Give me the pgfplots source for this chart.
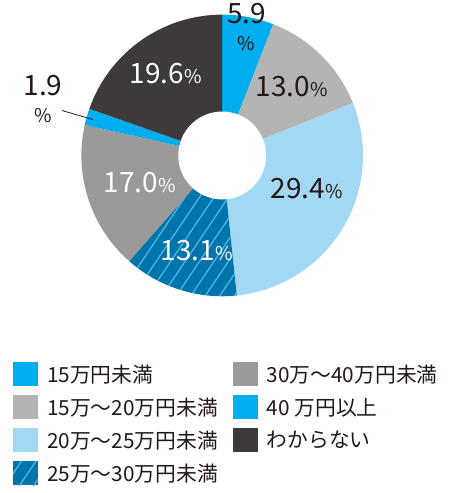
\documentclass[border=0pt]{standalone}
\usepackage{pgfplots}
\pgfplotsset{compat=1.18}
\usepackage{fontspec}
\setmainfont{Noto Sans CJK JP}
\usetikzlibrary{patterns.meta}

\definecolor{cBright}{HTML}{00AEEF}
\definecolor{cLGray}{HTML}{B4B4B5}
\definecolor{cLBlue}{HTML}{A3D8F4}
\definecolor{cDBlue}{HTML}{0075AC}
\definecolor{cHatch}{HTML}{52B2E6}
\definecolor{cMGray}{HTML}{9A9A9B}
\definecolor{cDark}{HTML}{3E3A3A}
\definecolor{cText}{HTML}{231815}

% donut centre and radii, in pixels of the reference
\newcommand{\cx}{222.5}
\newcommand{\cy}{338}
% one slice: from #1 % to #2 % (clockwise from the top), style #3
\newcommand{\slice}[3]{%
  \addplot[#3, draw=none, domain=#1:#2, samples=40, variable=\p]
    ({\cx+141*cos(90-\p*360/99.9)}, {\cy+141*sin(90-\p*360/99.9)})
    -- (axis cs:\cx,\cy) -- cycle;
}
\newcommand{\pct}[1]{{\fontsize{28}{28}\selectfont #1}{\fontsize{19}{19}\selectfont\%}}

\begin{document}
\begin{tikzpicture}
\begin{axis}[
  width=450pt, height=493pt, scale only axis,
  xmin=0, xmax=450, ymin=0, ymax=493,
  axis line style={draw=none}, ticks=none, clip=false,
  legend columns=2,
  legend cell align=left,
  legend image code/.code={\fill[#1] (0pt,-12pt) rectangle (25pt,12pt);},
  legend style={
    at={(axis cs:13,131)}, anchor=north west,
    draw=none, fill=none, inner sep=0pt,
    nodes={inner sep=0pt, text=cText},
    row sep=9pt,
    font=\fontsize{20.8}{20.8}\selectfont,
    /tikz/every odd column/.append style={column sep=9pt},
    /tikz/column 2/.append style={column sep=15pt},
  },
]
\slice{0}{5.9}{fill=cBright}
\addlegendentry{15万円未満}
\slice{61.4}{78.4}{fill=cMGray}
\addlegendentry{30万〜40万円未満}
\slice{5.9}{18.9}{fill=cLGray}
\addlegendentry{15万〜20万円未満}
\slice{78.4}{80.3}{fill=cBright}
\addlegendentry{40 万円以上}
\slice{18.9}{48.3}{fill=cLBlue}
\addlegendentry{20万〜25万円未満}
\slice{80.3}{99.9}{fill=cDark}
\addlegendentry{わからない}
\slice{48.3}{61.4}{fill=cDBlue, postaction={pattern={Lines[angle=56,distance=12pt,line width=1.3pt]}, pattern color=cHatch}}
\addlegendentry{25万〜30万円未満}

% hole
\addplot[fill=white, draw=none, domain=0:360, samples=90, forget plot]
  ({\cx+44*cos(x)}, {\cy+44*sin(x)}) -- cycle;

% value labels
\node[text=cText] at (axis cs:247,480) {\fontsize{28}{28}\selectfont 5.9};
\node[text=cText] at (axis cs:247,450) {\fontsize{19}{19}\selectfont\%};
\node[text=cText] at (axis cs:292,407) {\pct{13.0}};
\node[text=cText] at (axis cs:307,305) {\pct{29.4}};
\node[text=white] at (axis cs:197,243) {\pct{13.1}};
\node[text=white] at (axis cs:140,311) {\pct{17.0}};
\node[text=white] at (axis cs:166,420) {\pct{19.6}};
\node[text=cText] at (axis cs:43,408) {\fontsize{28}{28}\selectfont 1.9};
\node[text=cText] at (axis cs:43,378) {\fontsize{19}{19}\selectfont\%};
\draw[cText, line width=0.8pt] (axis cs:62,383) -- (axis cs:93,374);
\end{axis}
\end{tikzpicture}
\end{document}
